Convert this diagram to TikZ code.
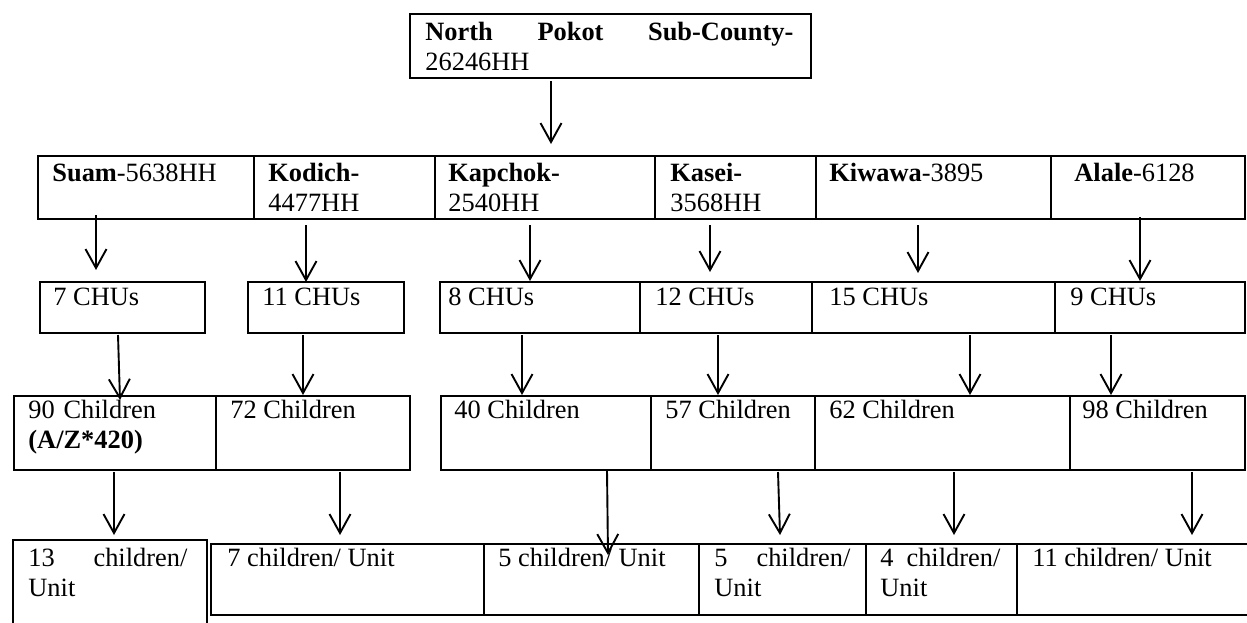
\documentclass[tikz,border=0pt]{standalone}
\usepackage{fontspec}
\setmainfont{Liberation Serif}
\usetikzlibrary{arrows.meta,calc}
\newlength\upx \setlength\upx{0.5pt}
\tikzset{
  cell/.style={draw, line width=1pt, inner sep=0pt, anchor=north west},
  txt/.style={anchor=base west, inner sep=0pt, font=\fontsize{13.2}{15.25}\selectfont},
  ml/.style={txt, align=left, text width=#1\upx},
  arr/.style={line width=0.95pt, -{Straight Barb[length=9.5pt,width=10.5pt]}},
}
\begin{document}
\begin{tikzpicture}[x=0.5pt,y=-0.5pt]
\useasboundingbox (0,0) rectangle (1247,622);
\clip (0,0) rectangle (1247,622);
% top
\node[cell, minimum width=401\upx, minimum height=64\upx] (top) at (409,13) {};
\node[ml=368] (ttop) at (425,40) {\hbox to\linewidth{\bfseries North\hfill Pokot\hfill Sub-County-}\\26246HH};
% row 1
\node[cell, minimum width=216\upx, minimum height=63\upx] (suam) at (37,155) {};
\node[cell, minimum width=181\upx, minimum height=63\upx] (kod) at (253,155) {};
\node[cell, minimum width=220\upx, minimum height=63\upx] (kap) at (434,155) {};
\node[cell, minimum width=161\upx, minimum height=63\upx] (kas) at (654,155) {};
\node[cell, minimum width=235\upx, minimum height=63\upx] (kiw) at (815,155) {};
\node[cell, minimum width=194\upx, minimum height=63\upx] (ala) at (1050,155) {};
\node[txt] (tsuam) at (52,181) {\textbf{Suam}-5638HH};
\node[ml=150] (tkod) at (268,181) {\textbf{Kodich-}\\4477HH};
\node[ml=190] (tkap) at (448,181) {\textbf{Kapchok-}\\2540HH};
\node[ml=130] (tkas) at (670,181) {\textbf{Kasei-}\\3568HH};
\node[txt] (tkiw) at (829,181) {\textbf{Kiwawa}-3895};
\node[txt] (tala) at (1074,181) {\textbf{Alale}-6128};
% row 2
\node[cell, minimum width=165\upx, minimum height=51\upx] (c7) at (39,281) {};
\node[cell, minimum width=156\upx, minimum height=51\upx] (c11) at (247,281) {};
\node[cell, minimum width=200\upx, minimum height=51\upx] (c8) at (439,281) {};
\node[cell, minimum width=172\upx, minimum height=51\upx] (c12) at (639,281) {};
\node[cell, minimum width=243\upx, minimum height=51\upx] (c15) at (811,281) {};
\node[cell, minimum width=190\upx, minimum height=51\upx] (c9) at (1054,281) {};
\node[txt] (tc7) at (53,305) {7 CHUs};
\node[txt] (tc11) at (262,305) {11 CHUs};
\node[txt] (tc8) at (448,305) {8 CHUs};
\node[txt] (tc12) at (655,305) {12 CHUs};
\node[txt] (tc15) at (829,305) {15 CHUs};
\node[txt] (tc9) at (1070,305) {9 CHUs};
% row 3
\node[cell, minimum width=202\upx, minimum height=74\upx] (n90) at (13,395) {};
\node[cell, minimum width=194\upx, minimum height=74\upx] (n72) at (215,395) {};
\node[cell, minimum width=210\upx, minimum height=74\upx] (n40) at (440,395) {};
\node[cell, minimum width=164\upx, minimum height=74\upx] (n57) at (650,395) {};
\node[cell, minimum width=255\upx, minimum height=74\upx] (n62) at (814,395) {};
\node[cell, minimum width=175\upx, minimum height=74\upx] (n98) at (1069,395) {};
\node[ml=180] (tn90) at (28,418) {90 Children\\\textbf{(A/Z*420)}};
\node[txt] (tn72) at (230,418) {72 Children};
\node[txt] (tn40) at (454,418) {40 Children};
\node[txt] (tn57) at (665,418) {57 Children};
\node[txt] (tn62) at (829,418) {62 Children};
\node[txt] (tn98) at (1082,418) {98 Children};
% row 4
\node[cell, minimum width=194\upx, minimum height=101\upx] (u13) at (12,539) {};
\node[cell, minimum width=273\upx, minimum height=71\upx] (u7) at (210,543) {};
\node[cell, minimum width=215\upx, minimum height=71\upx] (u5a) at (483,543) {};
\node[cell, minimum width=167\upx, minimum height=71\upx] (u5b) at (698,543) {};
\node[cell, minimum width=151\upx, minimum height=71\upx] (u4) at (865,543) {};
\node[cell, minimum width=244\upx, minimum height=71\upx] (u11) at (1016,543) {};
\node[ml=159] (tu13) at (28,566) {\hbox to\linewidth{13\hfill children/}\\Unit};
\node[txt] (tu7) at (227,566) {7 children/ Unit};
\node[txt] (tu5a) at (498,566) {5 children/ Unit};
\node[ml=136] (tu5b) at (714,566) {\hbox to\linewidth{5\hfill children/}\\Unit};
\node[ml=120] (tu4) at (880,566) {\hbox to\linewidth{4\hfill children/}\\Unit};
\node[txt] (tu11) at (1032,566) {11 children/ Unit};
% arrows
\draw[arr] ($(top.south -| 551,0)+(0,2)$) -- ($(kap.north -| 551,0)+(0,-11)$);
\draw[arr] ($(suam.south -| 96,0)+(0,-5)$) -- ($(c7.north -| 96,0)+(0,-11)$);
\draw[arr] ($(kod.south -| 306,0)+(0,5)$) -- ($(c11.north -| 306,0)+(0,1)$);
\draw[arr] ($(kap.south -| 530,0)+(0,5)$) -- ($(c8.north -| 530,0)+(0,0)$);
\draw[arr] ($(kas.south -| 710,0)+(0,5)$) -- ($(c12.north -| 710,0)+(0,-9)$);
\draw[arr] ($(kiw.south -| 918,0)+(0,5)$) -- ($(c15.north -| 918,0)+(0,-8)$);
\draw[arr] ($(ala.south -| 1140,0)+(0,-3)$) -- ($(c9.north -| 1140,0)+(0,0)$);
\draw[arr] ($(c7.south -| 118,0)+(0,1)$) -- ($(n90.north -| 120,0)+(0,5)$);
\draw[arr] ($(c11.south -| 303,0)+(0,1)$) -- ($(n72.north -| 303,0)+(0,0)$);
\draw[arr] ($(c8.south -| 522,0)+(0,1)$) -- ($(n40.north -| 522,0)+(0,0)$);
\draw[arr] ($(c12.south -| 718,0)+(0,1)$) -- ($(n57.north -| 718,0)+(0,0)$);
\draw[arr] ($(c15.south -| 970,0)+(0,1)$) -- ($(n62.north -| 970,0)+(0,0)$);
\draw[arr] ($(c9.south -| 1111,0)+(0,1)$) -- ($(n98.north -| 1111,0)+(0,0)$);
\draw[arr] ($(n90.south -| 114,0)+(0,1)$) -- ($(u13.north -| 114,0)+(0,-4)$);
\draw[arr] ($(n72.south -| 340,0)+(0,1)$) -- ($(u7.north -| 340,0)+(0,-8)$);
\draw[arr] ($(n40.south -| 607,0)+(0,-1)$) -- ($(u5a.north -| 608,0)+(0,12)$);
\draw[arr] ($(n57.south -| 778,0)+(0,1)$) -- ($(u5b.north -| 780,0)+(0,-8)$);
\draw[arr] ($(n62.south -| 954,0)+(0,1)$) -- ($(u4.north -| 954,0)+(0,-8)$);
\draw[arr] ($(n98.south -| 1192,0)+(0,1)$) -- ($(u11.north -| 1192,0)+(0,-8)$);
\end{tikzpicture}
\end{document}
